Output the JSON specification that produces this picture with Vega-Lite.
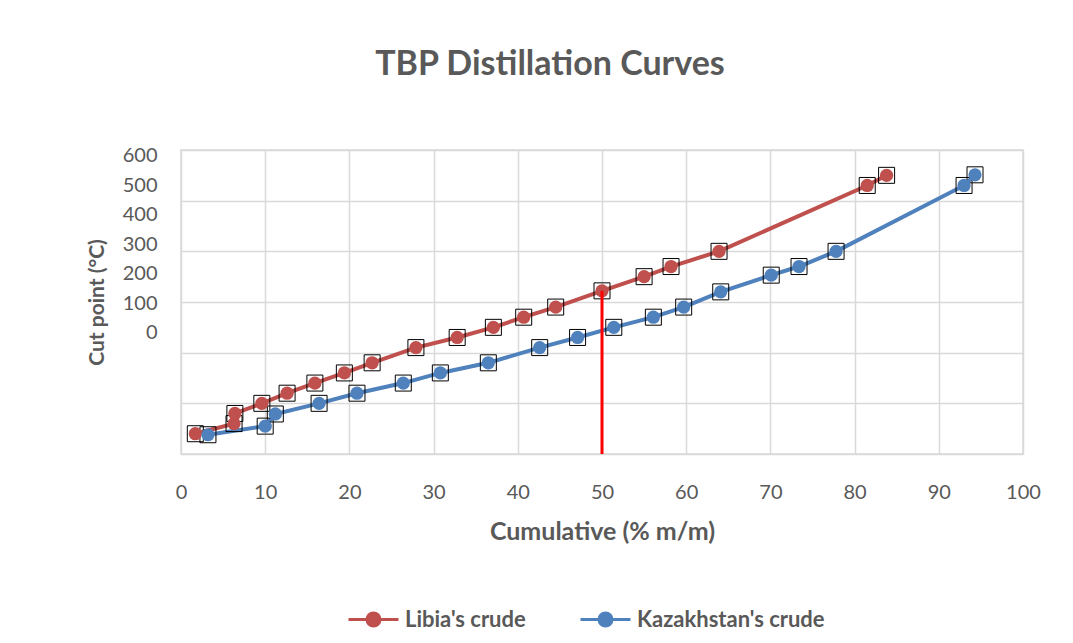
{
  "$schema": "https://vega.github.io/schema/vega-lite/v6.json",
  "width": 842,
  "height": 304,
  "autosize": {"type": "none"},
  "padding": {"left": 181, "top": 150, "right": 50, "bottom": 189},
  "background": "white",
  "title": {"text": "TBP Distillation Curves", "font": "Lato", "fontSize": 34, "fontWeight": "bold", "color": "#595959", "dx": -52, "offset": 64},
  "datasets": {
    "tbp": [
      {"crude": "Libia's crude", "cum": 1.7, "cut": 40},
      {"crude": "Libia's crude", "cum": 6.3, "cut": 60},
      {"crude": "Libia's crude", "cum": 6.4, "cut": 80},
      {"crude": "Libia's crude", "cum": 9.6, "cut": 100},
      {"crude": "Libia's crude", "cum": 12.6, "cut": 120},
      {"crude": "Libia's crude", "cum": 15.9, "cut": 140},
      {"crude": "Libia's crude", "cum": 19.4, "cut": 160},
      {"crude": "Libia's crude", "cum": 22.7, "cut": 180},
      {"crude": "Libia's crude", "cum": 27.9, "cut": 210},
      {"crude": "Libia's crude", "cum": 32.8, "cut": 230},
      {"crude": "Libia's crude", "cum": 37.1, "cut": 250},
      {"crude": "Libia's crude", "cum": 40.7, "cut": 270},
      {"crude": "Libia's crude", "cum": 44.5, "cut": 290},
      {"crude": "Libia's crude", "cum": 50.0, "cut": 322},
      {"crude": "Libia's crude", "cum": 55.0, "cut": 350},
      {"crude": "Libia's crude", "cum": 58.2, "cut": 370},
      {"crude": "Libia's crude", "cum": 63.9, "cut": 400},
      {"crude": "Libia's crude", "cum": 81.5, "cut": 530},
      {"crude": "Libia's crude", "cum": 83.8, "cut": 550},
      {"crude": "Kazakhstan's crude", "cum": 3.2, "cut": 38},
      {"crude": "Kazakhstan's crude", "cum": 10.0, "cut": 55},
      {"crude": "Kazakhstan's crude", "cum": 11.2, "cut": 79},
      {"crude": "Kazakhstan's crude", "cum": 16.4, "cut": 100},
      {"crude": "Kazakhstan's crude", "cum": 20.9, "cut": 120},
      {"crude": "Kazakhstan's crude", "cum": 26.4, "cut": 140},
      {"crude": "Kazakhstan's crude", "cum": 30.8, "cut": 160},
      {"crude": "Kazakhstan's crude", "cum": 36.5, "cut": 180},
      {"crude": "Kazakhstan's crude", "cum": 42.6, "cut": 210},
      {"crude": "Kazakhstan's crude", "cum": 47.1, "cut": 230},
      {"crude": "Kazakhstan's crude", "cum": 51.4, "cut": 250},
      {"crude": "Kazakhstan's crude", "cum": 56.1, "cut": 270},
      {"crude": "Kazakhstan's crude", "cum": 59.7, "cut": 290},
      {"crude": "Kazakhstan's crude", "cum": 64.1, "cut": 320},
      {"crude": "Kazakhstan's crude", "cum": 70.1, "cut": 353},
      {"crude": "Kazakhstan's crude", "cum": 73.4, "cut": 370},
      {"crude": "Kazakhstan's crude", "cum": 77.8, "cut": 400},
      {"crude": "Kazakhstan's crude", "cum": 93.0, "cut": 530},
      {"crude": "Kazakhstan's crude", "cum": 94.3, "cut": 551}
    ],
    "cutline": [{"cum": 50, "cut": 322}]
  },
  "config": {
    "view": {"stroke": "#D9D9D9", "strokeWidth": 1.5},
    "axis": {"labelFont": "Lato", "titleFont": "Lato", "labelColor": "#595959", "titleColor": "#595959", "labelFontSize": 20, "titleFontSize": 22, "titleFontWeight": "bold", "gridColor": "#D9D9D9", "gridWidth": 1.5}
  },
  "resolve": {"scale": {"y": "independent"}, "axis": {"y": "independent"}},
  "layer": [
    {
      "data": {"name": "tbp"},
      "encoding": {
        "x": {"field": "cum", "type": "quantitative", "scale": {"domain": [0, 100], "nice": false},
          "axis": {"values": [0, 10, 20, 30, 40, 50, 60, 70, 80, 90, 100], "grid": true, "ticks": false, "domain": false, "labelFlush": false, "labelPadding": 28, "title": "Cumulative (% m/m)", "titleFontSize": 25, "titlePadding": 17}},
        "y": {"field": "cut", "type": "quantitative", "scale": {"domain": [0, 600], "nice": false},
          "axis": {"orient": "right", "values": [0, 100, 200, 300, 400, 500, 600], "grid": true, "labels": false, "ticks": false, "domain": false, "title": null}}
      },
      "layer": [
        {
          "mark": {"type": "line", "strokeWidth": 4},
          "encoding": {
            "color": {"field": "crude", "type": "nominal", "scale": {"domain": ["Libia's crude", "Kazakhstan's crude"], "range": ["#C0504D", "#4F81BD"]},
              "legend": {"title": null, "orient": "none", "legendX": 166, "legendY": 443, "direction": "horizontal",
                "symbolType": "M-1,0L1,0M-0.26,0A0.26,0.26 0 1 1 0.26,0A0.26,0.26 0 1 1 -0.26,0Z",
                "symbolSize": 2500, "symbolStrokeWidth": 3, "labelFont": "Lato", "labelFontSize": 22, "labelFontWeight": "bold", "labelColor": "#595959", "labelOffset": 5, "labelLimit": 400, "columnPadding": 48,
                "encode": {"symbols": {"update": {"stroke": {"scale": "color", "field": "value"}, "fill": {"scale": "color", "field": "value"}}}}}}
          }
        },
        {
          "mark": {"type": "point", "shape": "square", "size": 256, "filled": false, "stroke": "#000000", "strokeWidth": 1, "opacity": 1},
          "encoding": {"detail": {"field": "crude", "type": "nominal"}}
        },
        {
          "mark": {"type": "point", "shape": "circle", "size": 175, "filled": true, "opacity": 1},
          "encoding": {
            "color": {"field": "crude", "type": "nominal", "scale": {"domain": ["Libia's crude", "Kazakhstan's crude"], "range": ["#C0504D", "#4F81BD"]},
              "legend": {"title": null, "orient": "none", "legendX": 166, "legendY": 443, "direction": "horizontal",
                "symbolType": "M-1,0L1,0M-0.26,0A0.26,0.26 0 1 1 0.26,0A0.26,0.26 0 1 1 -0.26,0Z",
                "symbolSize": 2500, "symbolStrokeWidth": 3, "labelFont": "Lato", "labelFontSize": 22, "labelFontWeight": "bold", "labelColor": "#595959", "labelOffset": 5, "labelLimit": 400, "columnPadding": 48,
                "encode": {"symbols": {"update": {"stroke": {"scale": "color", "field": "value"}, "fill": {"scale": "color", "field": "value"}}}}}}
          }
        },
        {
          "data": {"name": "cutline"},
          "mark": {"type": "rule", "color": "#FF0000", "strokeWidth": 3},
          "encoding": {
            "x": {"field": "cum", "type": "quantitative"},
            "y": {"datum": 0},
            "y2": {"field": "cut"}
          }
        }
      ]
    },
    {
      "data": {"name": "tbp"},
      "mark": {"type": "point", "opacity": 0},
      "encoding": {
        "x": {"field": "cum", "type": "quantitative"},
        "y": {"field": "cut", "type": "quantitative", "scale": {"domain": [-412, 620], "nice": false, "zero": false},
          "axis": {"orient": "left", "values": [0, 100, 200, 300, 400, 500, 600], "grid": false, "ticks": false, "domain": false, "labelPadding": 24, "title": "Cut point (°C)", "titleFontSize": 21, "titlePadding": 15}}
      }
    }
  ]
}
